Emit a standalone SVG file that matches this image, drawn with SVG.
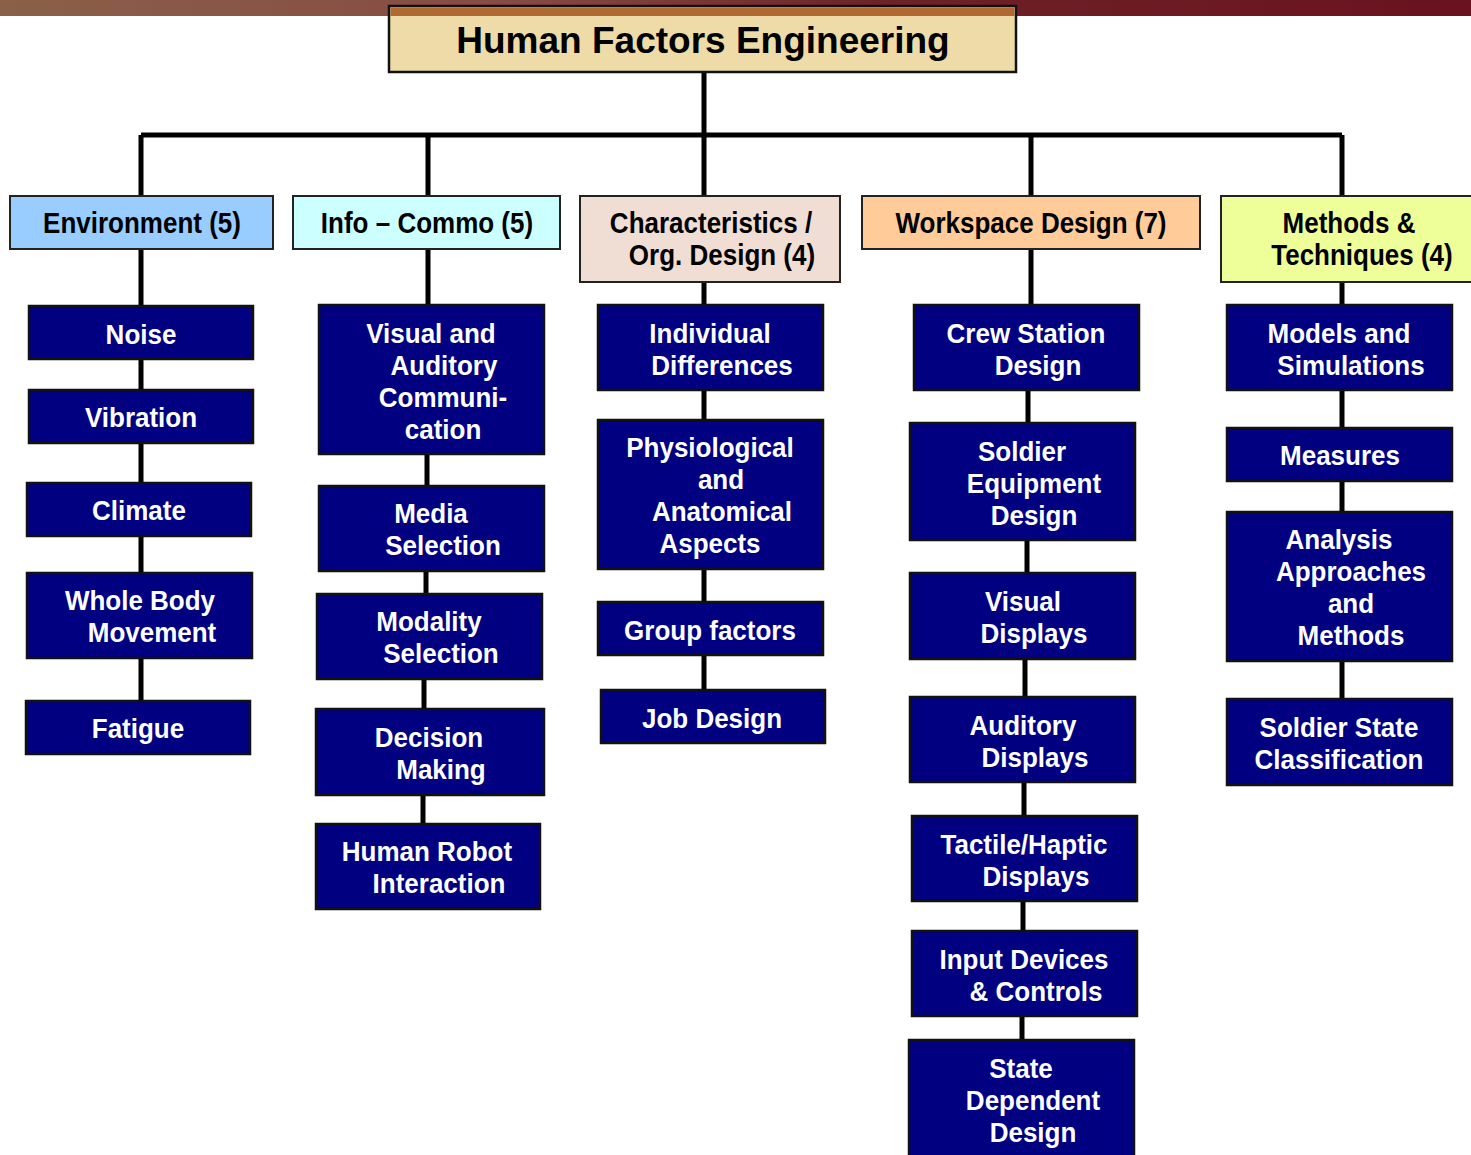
<svg xmlns="http://www.w3.org/2000/svg" width="1471" height="1155" viewBox="0 0 1471 1155">
  <defs>
    <linearGradient id="band" x1="0" y1="0" x2="1" y2="0">
      <stop offset="0" stop-color="#8a6048"/>
      <stop offset="0.35" stop-color="#874a44"/>
      <stop offset="0.6" stop-color="#6e2226"/>
      <stop offset="1" stop-color="#6a1220"/>
    </linearGradient>
    <style>
      text { font-family: "Liberation Sans", Arial, sans-serif; font-weight: bold; text-anchor: middle; }
      .title { font-size: 37px; fill: #000; }
      .hdr rect { stroke: #222; stroke-width: 2; }
      .hdr text { font-size: 26px; fill: #000; transform-box: fill-box; transform-origin: center; transform: scaleY(1.12); }
      .item rect { fill: #000080; stroke: #111; stroke-width: 2.5; }
      .item text { font-size: 26px; fill: #fff; transform-box: fill-box; transform-origin: center; transform: scaleY(1.07); }
      .conn { stroke: #000; stroke-width: 5; fill: none; }
    </style>
  </defs>

  <rect width="1471" height="1155" fill="#fff"/>
  <!-- top decorative band -->
  <rect x="0" y="0" width="1471" height="16" fill="url(#band)"/>

  <!-- connectors -->
  <g id="connectors" class="conn">
    <path d="M704 72V135M141 135H1342"/>
    <path d="M141 135V196M428 135V196M704 135V196M1031 135V196M1342 135V196"/>
    <path d="M141 249V701"/>
    <path d="M428 249V305M427 454V486M426 571V594M424 679V709M423 795V824"/>
    <path d="M704 282V305M704 390V420M704 569V602M704 655V690"/>
    <path d="M1031 249V305M1028 390V423M1027 540V573M1025 659V697M1024 782V816M1023 901V931M1022 1016V1040"/>
    <path d="M1342 282V305M1342 390V428M1342 481V512M1342 661V699"/>
  </g>

  <!-- root -->
  <g id="root">
    <rect x="389" y="6" width="627" height="66" fill="#eedba8" stroke="#111" stroke-width="2.5"/>
    <rect x="390.5" y="7.5" width="624" height="8.5" fill="#a5561c" opacity="0.85"/>
    <text class="title" x="703" y="53">Human Factors Engineering</text>
  </g>

  <!-- category headers -->
  <g id="environment" class="hdr">
    <rect x="10" y="196" width="263" height="53" fill="#99ccff"/>
    <text x="142" y="232">Environment (5)</text>
  </g>
  <g id="info-commo" class="hdr">
    <rect x="293" y="196" width="267" height="53" fill="#ccffff"/>
    <text x="427" y="232">Info – Commo (5)</text>
  </g>
  <g id="characteristics" class="hdr">
    <rect x="580" y="196" width="260" height="86" fill="#f0ddd3"/>
    <text x="711" y="232">Characteristics /</text>
    <text x="722" y="264">Org. Design (4)</text>
  </g>
  <g id="workspace" class="hdr">
    <rect x="862" y="196" width="338" height="53" fill="#ffcc99"/>
    <text x="1031" y="232">Workspace Design (7)</text>
  </g>
  <g id="methods" class="hdr">
    <rect x="1221" y="196" width="256" height="86" fill="#eeff99"/>
    <text x="1349" y="232">Methods &amp;</text>
    <text x="1362" y="264">Techniques (4)</text>
  </g>

  <!-- Environment column -->
  <g id="noise" class="item">
    <rect x="29" y="306" width="224" height="53"/>
    <text x="141" y="343">Noise</text>
  </g>
  <g id="vibration" class="item">
    <rect x="29" y="390" width="224" height="53"/>
    <text x="141" y="426">Vibration</text>
  </g>
  <g id="climate" class="item">
    <rect x="27" y="483" width="224" height="53"/>
    <text x="139" y="519">Climate</text>
  </g>
  <g id="whole-body" class="item">
    <rect x="27" y="573" width="225" height="85"/>
    <text x="140" y="609">Whole Body</text>
    <text x="152" y="641">Movement</text>
  </g>
  <g id="fatigue" class="item">
    <rect x="26" y="701" width="224" height="53"/>
    <text x="138" y="737">Fatigue</text>
  </g>

  <!-- Info – Commo column -->
  <g id="visual-auditory" class="item">
    <rect x="319" y="305" width="225" height="149"/>
    <text x="431" y="342">Visual and</text>
    <text x="444" y="374">Auditory</text>
    <text x="443" y="406">Communi-</text>
    <text x="443" y="438">cation</text>
  </g>
  <g id="media" class="item">
    <rect x="319" y="486" width="225" height="85"/>
    <text x="431" y="522">Media</text>
    <text x="443" y="554">Selection</text>
  </g>
  <g id="modality" class="item">
    <rect x="317" y="594" width="225" height="85"/>
    <text x="429" y="630">Modality</text>
    <text x="441" y="662">Selection</text>
  </g>
  <g id="decision" class="item">
    <rect x="316" y="709" width="228" height="86"/>
    <text x="429" y="746">Decision</text>
    <text x="441" y="778">Making</text>
  </g>
  <g id="hri" class="item">
    <rect x="316" y="824" width="224" height="85"/>
    <text x="427" y="860">Human Robot</text>
    <text x="439" y="892">Interaction</text>
  </g>

  <!-- Characteristics column -->
  <g id="individual" class="item">
    <rect x="598" y="305" width="225" height="85"/>
    <text x="710" y="342">Individual</text>
    <text x="722" y="374">Differences</text>
  </g>
  <g id="physiological" class="item">
    <rect x="598" y="420" width="225" height="149"/>
    <text x="710" y="456">Physiological</text>
    <text x="721" y="488">and</text>
    <text x="722" y="520">Anatomical</text>
    <text x="710" y="552">Aspects</text>
  </g>
  <g id="group" class="item">
    <rect x="598" y="602" width="225" height="53"/>
    <text x="710" y="639">Group factors</text>
  </g>
  <g id="job" class="item">
    <rect x="601" y="690" width="224" height="53"/>
    <text x="712" y="727">Job Design</text>
  </g>

  <!-- Workspace column -->
  <g id="crew" class="item">
    <rect x="914" y="305" width="225" height="85"/>
    <text x="1026" y="342">Crew Station</text>
    <text x="1038" y="374">Design</text>
  </g>
  <g id="soldier-equipment" class="item">
    <rect x="910" y="423" width="225" height="117"/>
    <text x="1022" y="460">Soldier</text>
    <text x="1034" y="492">Equipment</text>
    <text x="1034" y="524">Design</text>
  </g>
  <g id="visual-displays" class="item">
    <rect x="910" y="573" width="225" height="86"/>
    <text x="1023" y="610">Visual</text>
    <text x="1034" y="642">Displays</text>
  </g>
  <g id="auditory-displays" class="item">
    <rect x="910" y="697" width="225" height="85"/>
    <text x="1023" y="734">Auditory</text>
    <text x="1035" y="766">Displays</text>
  </g>
  <g id="tactile" class="item">
    <rect x="912" y="816" width="225" height="85"/>
    <text x="1024" y="853">Tactile/Haptic</text>
    <text x="1036" y="885">Displays</text>
  </g>
  <g id="input" class="item">
    <rect x="912" y="931" width="225" height="85"/>
    <text x="1024" y="968">Input Devices</text>
    <text x="1036" y="1000">&amp; Controls</text>
  </g>
  <g id="state-dependent" class="item">
    <rect x="909" y="1040" width="225" height="130"/>
    <text x="1021" y="1077">State</text>
    <text x="1033" y="1109">Dependent</text>
    <text x="1033" y="1141">Design</text>
  </g>

  <!-- Methods column -->
  <g id="models" class="item">
    <rect x="1227" y="305" width="225" height="85"/>
    <text x="1339" y="342">Models and</text>
    <text x="1351" y="374">Simulations</text>
  </g>
  <g id="measures" class="item">
    <rect x="1227" y="428" width="225" height="53"/>
    <text x="1340" y="464">Measures</text>
  </g>
  <g id="analysis" class="item">
    <rect x="1227" y="512" width="225" height="149"/>
    <text x="1339" y="548">Analysis</text>
    <text x="1351" y="580">Approaches</text>
    <text x="1351" y="612">and</text>
    <text x="1351" y="644">Methods</text>
  </g>
  <g id="soldier-state" class="item">
    <rect x="1227" y="699" width="225" height="86"/>
    <text x="1339" y="736">Soldier State</text>
    <text x="1339" y="768">Classification</text>
  </g>
</svg>
